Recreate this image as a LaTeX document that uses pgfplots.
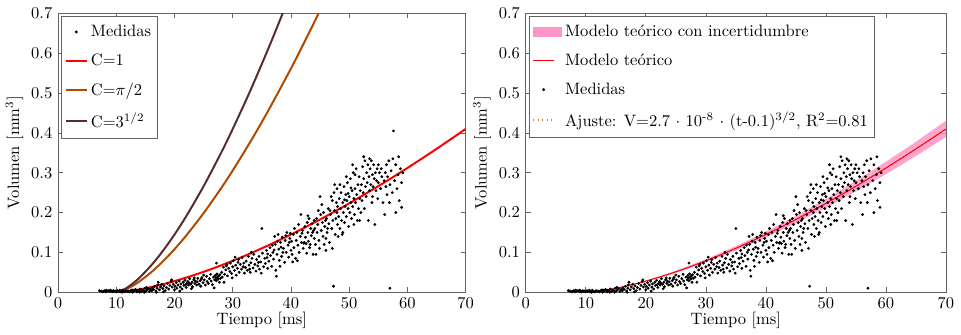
\documentclass[border=0pt]{standalone}
\usepackage{pgfplots}
\pgfplotsset{compat=1.18}
\usepackage{pgfplotstable}
\definecolor{cpi}{RGB}{176,72,0}
\definecolor{csq}{RGB}{85,45,45}
\definecolor{bandpink}{RGB}{255,150,200}
\definecolor{axgray}{RGB}{100,100,100}
\definecolor{fitor}{RGB}{240,110,60}

\pgfplotsset{legend image code/.code={\draw[mark repeat=2,mark phase=2,#1] plot coordinates {(0cm,0cm) (0.22cm,0cm) (0.44cm,0cm)};}}

\pgfplotstableread[row sep=\\]{t V\\
7.1 0.004\\ 7.4 0.003\\ 7.8 0.002\\ 8.0 0.004\\ 8.2 0.001\\ 8.5 0.003\\ 8.7 0.004\\ 8.9 0.002\\ 9.1 0.003\\ 9.3 0.001\\ 9.5 0.004\\ 9.6 0.002\\ 9.8 0.003\\ 10.0 0.001\\ 10.2 0.004\\ 10.3 0.002\\ 10.5 0.003\\ 10.7 0.001\\ 10.9 0.003\\ 11.1 0.005\\ 11.3 0.002\\ 11.5 0.001\\ 11.7 0.004\\ 11.9 0.002\\ 12.1 0.003\\ 8.3 0.005\\ 9.0 0.005\\ 10.6 0.005\\ 11.0 0.000\\ 7.6 0.001\\
12.3 0.001\\ 12.5 0.004\\ 12.7 0.006\\ 12.9 0.002\\ 13.1 0.003\\ 13.3 0.007\\ 13.5 0.001\\ 13.7 0.005\\ 13.9 0.003\\ 14.1 0.008\\ 14.3 0.002\\ 14.5 0.005\\ 14.7 0.004\\ 14.9 0.010\\ 15.1 0.003\\ 15.3 0.006\\ 15.5 0.009\\ 15.7 0.002\\ 15.9 0.007\\ 12.8 0.000\\ 13.6 0.002\\ 14.8 0.000\\ 15.2 0.012\\ 13.0 0.005\\ 14.0 0.000\\
16.1 0.004\\ 16.2 0.011\\ 16.4 0.007\\ 16.6 0.015\\ 16.8 0.003\\ 17.0 0.010\\ 17.1 0.018\\ 17.2 0.025\\ 17.4 0.006\\ 17.6 0.013\\ 17.8 0.020\\ 18.0 0.009\\ 18.2 0.016\\ 18.4 0.004\\ 18.6 0.012\\ 18.8 0.022\\ 19.0 0.008\\ 19.2 0.017\\ 19.4 0.027\\ 19.6 0.013\\ 19.8 0.020\\ 20.0 0.006\\ 16.9 0.000\\ 18.1 0.001\\ 19.5 0.031\\
20.1 0.015\\ 20.3 0.024\\ 20.4 0.010\\ 20.6 0.018\\ 20.8 0.028\\ 21.0 0.013\\ 21.1 0.021\\ 21.3 0.008\\ 21.5 0.025\\ 21.6 0.017\\ 21.8 0.030\\ 22.0 0.012\\ 22.1 0.022\\ 22.3 0.027\\ 22.4 0.018\\ 22.6 0.034\\ 22.8 0.020\\ 23.0 0.025\\ 23.1 0.014\\ 23.3 0.031\\ 23.5 0.022\\ 23.6 0.028\\ 23.8 0.018\\ 24.0 0.035\\ 20.9 0.003\\ 22.9 0.009\\ 23.9 0.026\\ 21.9 0.019\\ 22.5 0.023\\ 23.4 0.036\\
24.2 0.020\\ 24.4 0.029\\ 24.5 0.015\\ 24.7 0.037\\ 24.9 0.024\\ 25.1 0.031\\ 25.3 0.018\\ 25.5 0.040\\ 25.6 0.027\\ 25.8 0.022\\ 26.0 0.034\\ 26.2 0.045\\ 26.3 0.028\\ 26.5 0.019\\ 26.7 0.038\\ 26.9 0.031\\ 27.0 0.042\\ 27.1 0.036\\ 27.2 0.029\\ 27.3 0.046\\ 27.4 0.038\\ 27.5 0.033\\ 27.6 0.041\\ 27.7 0.025\\ 27.8 0.044\\ 27.9 0.035\\ 27.2 0.073\\ 26.8 0.011\\ 25.0 0.043\\ 24.6 0.033\\
28.1 0.050\\ 28.2 0.038\\ 28.4 0.063\\ 28.6 0.045\\ 28.8 0.056\\ 29.0 0.070\\ 29.1 0.041\\ 29.3 0.060\\ 29.5 0.052\\ 29.6 0.073\\ 29.8 0.047\\ 30.0 0.064\\ 30.1 0.079\\ 30.3 0.055\\ 30.5 0.068\\ 30.6 0.043\\ 30.8 0.060\\ 31.0 0.082\\ 31.1 0.050\\ 31.3 0.070\\ 31.5 0.058\\ 31.6 0.087\\ 31.8 0.064\\ 32.0 0.048\\ 28.5 0.025\\ 29.9 0.036\\ 30.9 0.075\\ 31.9 0.073\\ 28.9 0.066\\ 30.4 0.088\\
32.2 0.062\\ 32.3 0.078\\ 32.5 0.055\\ 32.7 0.090\\ 32.8 0.068\\ 33.0 0.050\\ 33.1 0.074\\ 33.3 0.085\\ 33.5 0.061\\ 33.6 0.095\\ 33.8 0.070\\ 34.0 0.053\\ 34.1 0.082\\ 34.3 0.066\\ 34.5 0.090\\ 34.6 0.058\\ 34.8 0.076\\ 35.0 0.160\\ 35.1 0.098\\ 35.3 0.064\\ 35.5 0.085\\ 35.6 0.072\\ 35.8 0.105\\ 36.0 0.060\\ 33.2 0.100\\ 34.9 0.048\\ 35.9 0.087\\ 32.9 0.058\\ 34.4 0.075\\ 36.0 0.096\\
36.2 0.078\\ 36.4 0.112\\ 36.5 0.092\\ 36.7 0.065\\ 36.9 0.100\\ 37.0 0.083\\ 37.2 0.140\\ 37.3 0.120\\ 37.4 0.055\\ 37.6 0.095\\ 37.8 0.145\\ 37.9 0.108\\ 38.0 0.080\\ 38.2 0.125\\ 38.4 0.090\\ 38.5 0.138\\ 38.7 0.110\\ 38.9 0.075\\ 39.0 0.130\\ 39.2 0.100\\ 39.3 0.150\\ 39.5 0.118\\ 39.6 0.088\\ 39.8 0.135\\ 40.0 0.105\\ 37.5 0.040\\ 38.1 0.065\\ 39.1 0.142\\ 37.1 0.106\\ 38.6 0.100\\ 39.7 0.125\\ 36.8 0.118\\ 38.3 0.113\\ 39.9 0.148\\ 37.7 0.128\\
40.1 0.128\\ 40.2 0.095\\ 40.4 0.145\\ 40.5 0.112\\ 40.6 0.160\\ 40.8 0.085\\ 40.9 0.130\\ 41.0 0.150\\ 41.2 0.118\\ 41.3 0.170\\ 41.4 0.100\\ 41.6 0.140\\ 41.7 0.195\\ 41.8 0.125\\ 42.0 0.155\\ 42.1 0.110\\ 42.2 0.123\\ 42.3 0.125\\ 42.4 0.165\\ 42.5 0.138\\ 42.7 0.098\\ 42.8 0.175\\ 42.9 0.150\\ 43.0 0.128\\ 43.1 0.185\\ 43.2 0.112\\ 43.4 0.160\\ 43.5 0.142\\ 43.6 0.172\\ 43.8 0.095\\ 43.9 0.155\\ 44.0 0.180\\ 41.1 0.079\\ 42.6 0.122\\ 43.3 0.120\\ 40.3 0.076\\ 44.0 0.135\\ 41.9 0.148\\ 42.9 0.192\\ 43.7 0.150\\
44.1 0.160\\ 44.2 0.120\\ 44.4 0.185\\ 44.5 0.150\\ 44.6 0.170\\ 44.8 0.130\\ 45.0 0.240\\ 45.1 0.195\\ 45.2 0.155\\ 45.4 0.175\\ 45.5 0.140\\ 45.6 0.200\\ 45.8 0.165\\ 46.0 0.105\\ 46.1 0.185\\ 46.2 0.150\\ 46.4 0.210\\ 46.5 0.172\\ 46.6 0.125\\ 46.8 0.195\\ 47.0 0.160\\ 47.1 0.230\\ 47.2 0.180\\ 47.3 0.015\\ 47.4 0.250\\ 47.5 0.205\\ 47.6 0.145\\ 47.7 0.185\\ 47.8 0.225\\ 47.9 0.260\\ 48.0 0.170\\ 44.3 0.095\\ 44.9 0.110\\ 45.3 0.220\\ 45.9 0.180\\ 46.3 0.160\\ 46.7 0.205\\ 47.1 0.110\\ 47.5 0.270\\ 47.9 0.200\\ 46.9 0.240\\ 45.7 0.120\\ 48.0 0.215\\ 46.0 0.135\\ 44.7 0.205\\
48.1 0.140\\ 48.2 0.190\\ 48.3 0.235\\ 48.4 0.160\\ 48.5 0.210\\ 48.6 0.250\\ 48.7 0.180\\ 48.8 0.145\\ 48.9 0.225\\ 49.0 0.200\\ 49.1 0.265\\ 49.2 0.175\\ 49.3 0.215\\ 49.4 0.245\\ 49.5 0.190\\ 49.6 0.230\\ 49.7 0.275\\ 49.8 0.210\\ 49.9 0.165\\ 50.0 0.240\\ 50.1 0.200\\ 50.2 0.285\\ 50.3 0.225\\ 50.4 0.185\\ 50.5 0.255\\ 50.6 0.215\\ 50.7 0.300\\ 50.8 0.235\\ 50.9 0.195\\ 51.0 0.260\\ 51.1 0.225\\ 51.2 0.310\\ 51.3 0.245\\ 51.4 0.180\\ 51.5 0.270\\ 51.6 0.210\\ 51.7 0.290\\ 51.8 0.235\\ 51.9 0.255\\ 52.0 0.200\\ 48.9 0.150\\ 49.5 0.290\\ 50.6 0.320\\ 51.8 0.180\\ 49.2 0.232\\ 50.3 0.262\\ 51.0 0.295\\ 48.4 0.270\\ 50.8 0.170\\ 49.8 0.248\\
52.1 0.270\\ 52.2 0.230\\ 52.3 0.315\\ 52.4 0.250\\ 52.5 0.285\\ 52.6 0.210\\ 52.7 0.330\\ 52.8 0.265\\ 52.9 0.240\\ 53.0 0.300\\ 53.1 0.275\\ 53.2 0.320\\ 53.3 0.180\\ 53.4 0.290\\ 53.5 0.255\\ 53.6 0.310\\ 53.7 0.270\\ 53.8 0.330\\ 53.9 0.225\\ 54.0 0.295\\ 54.1 0.265\\ 54.2 0.320\\ 54.3 0.285\\ 54.4 0.170\\ 54.5 0.300\\ 54.6 0.255\\ 54.7 0.280\\ 54.8 0.310\\ 54.9 0.235\\ 55.0 0.275\\ 55.2 0.300\\ 55.4 0.260\\ 55.6 0.290\\ 55.8 0.225\\ 56.0 0.280\\ 52.5 0.340\\ 53.5 0.335\\ 54.0 0.240\\ 55.0 0.320\\ 55.5 0.310\\
56.1 0.195\\ 56.2 0.300\\ 56.3 0.265\\ 56.4 0.320\\ 56.5 0.245\\ 56.6 0.290\\ 56.8 0.330\\ 57.0 0.270\\ 57.0 0.010\\ 57.2 0.305\\ 57.4 0.250\\ 57.6 0.405\\ 57.8 0.280\\ 58.0 0.320\\ 58.2 0.260\\ 58.4 0.295\\ 58.6 0.230\\ 58.8 0.310\\ 59.0 0.213\\ 59.0 0.275\\ 58.5 0.340\\ 57.5 0.335\\ 56.9 0.225\\ 59.2 0.300\\ 58.0 0.200\\
}\medidas

\pgfplotstableread[row sep=\\]{t V\\
10 0\\ 11 0.00088\\ 12 0.0025\\ 13 0.00458\\ 14 0.00706\\ 16 0.01296\\ 18 0.01996\\ 20 0.0279\\ 22.5 0.0390\\ 25 0.0512\\ 27.5 0.0646\\ 30 0.0789\\ 32.5 0.0941\\ 35 0.1103\\ 37.5 0.1272\\ 40 0.1449\\ 42.5 0.1634\\ 45 0.1826\\ 47.5 0.2026\\ 50 0.2231\\ 52.5 0.2444\\ 55 0.2663\\ 57.5 0.2888\\ 60 0.3119\\ 62.5 0.3356\\ 65 0.3598\\ 67.5 0.3846\\ 70 0.4099\\
}\cuno

\pgfplotstableread[row sep=\\]{t V\\
10 0\\ 11 0.00342\\ 12 0.00967\\ 13 0.01776\\ 14 0.0273\\ 16 0.0502\\ 18 0.0773\\ 20 0.1081\\ 22 0.1421\\ 25 0.1986\\ 28 0.2610\\ 30 0.3057\\ 33 0.3770\\ 36 0.4532\\ 40 0.5616\\ 43 0.6480\\ 45 0.7078\\ 46 0.7383\\
}\cpidos

\pgfplotstableread[row sep=\\]{t V\\
10 0\\ 11 0.00458\\ 12 0.01296\\ 13 0.0238\\ 14 0.03666\\ 16 0.0674\\ 18 0.1037\\ 20 0.1449\\ 22 0.1905\\ 25 0.2662\\ 28 0.3500\\ 30 0.4099\\ 33 0.5055\\ 36 0.6077\\ 38 0.6791\\ 39 0.7157\\
}\craiz

\pgfplotstableread[row sep=\\]{t V\\
10 0\\ 12 0.00263\\ 14 0.00741\\ 16 0.01361\\ 18 0.02096\\ 20 0.0293\\ 25 0.0538\\ 30 0.0828\\ 35 0.1158\\ 40 0.1521\\ 45 0.1917\\ 50 0.2343\\ 55 0.2796\\ 60 0.3275\\ 65 0.3778\\ 70 0.4304\\
70 0.3894\\ 65 0.3418\\ 60 0.2963\\ 55 0.2530\\ 50 0.2119\\ 45 0.1735\\ 40 0.1377\\ 35 0.1048\\ 30 0.0750\\ 25 0.0486\\ 20 0.0265\\ 18 0.01896\\ 16 0.01231\\ 14 0.00671\\ 12 0.00238\\ 10 0\\
}\banda

\pgfplotsset{
  myaxis/.style={
    scale only axis, height=169pt,
    xmin=0, xmax=70, ymin=0, ymax=0.7,
    xtick={0,10,20,30,40,50,60,70},
    ytick={0,0.1,0.2,0.3,0.4,0.5,0.6,0.7},
    yticklabel style={/pgf/number format/fixed,/pgf/number format/precision=1},
    axis line style={axgray}, tick style={axgray, thin},
    major tick length=3pt,
    xlabel={Tiempo [ms]}, ylabel={Volumen [mm\textsuperscript{3}]},
    xlabel style={yshift=4.5pt}, ylabel style={yshift=-2pt},
    legend cell align=left,
    legend style={at={(0.008,0.992)}, anchor=north west, draw=axgray, inner xsep=2pt, inner ysep=3.5pt, font=\normalsize},
  },
  dots/.style={only marks, mark=*, mark size=0.65pt, black},
}

\begin{document}
\begin{tikzpicture}
\begin{axis}[myaxis, width=247pt, at={(0pt,0pt)}, anchor=south west, legend style={row sep=5pt}]
  \addplot[dots] table[x=t,y=V]{\medidas};
  \addlegendentry{Medidas}
  \addplot[red, line width=1.2pt, smooth] table[x=t,y=V]{\cuno};
  \addlegendentry{C=1}
  \addplot[cpi, line width=1.2pt, smooth] table[x=t,y=V]{\cpidos};
  \addlegendentry{C=$\pi$/2}
  \addplot[csq, line width=1.2pt, smooth] table[x=t,y=V]{\craiz};
  \addlegendentry{C=3\textsuperscript{1/2}}
\end{axis}
\begin{axis}[myaxis, width=254.7pt, at={(283.4pt,0pt)}, anchor=south west, legend style={row sep=5pt}]
  \addlegendimage{area legend, fill=bandpink, draw=bandpink}
  \addlegendentry{Modelo te\'orico con incertidumbre}
  \addlegendimage{red, line width=0.6pt}
  \addlegendentry{Modelo te\'orico}
  \addlegendimage{dots}
  \addlegendentry{Medidas}
  \addlegendimage{fitor, dotted, line width=0.7pt}
  \addlegendentry{Ajuste: V=2.7 $\cdot$ 10\textsuperscript{-8} $\cdot$ (t-0.1)\textsuperscript{3/2}, R\textsuperscript{2}=0.81}
  \addplot[fill=bandpink, draw=none, opacity=0.85, forget plot] table[x=t,y=V]{\banda} -- cycle;
  \addplot[dots, forget plot] table[x=t,y=V]{\medidas};
  \addplot[fitor, dotted, line width=0.7pt, smooth, forget plot] table[x=t,y=V]{\cuno};
  \addplot[red, line width=0.6pt, smooth, forget plot] table[x=t,y=V]{\cuno};
\end{axis}
\pgfresetboundingbox
\path[use as bounding box] (-35.2pt,-25.9pt) rectangle (547.2pt,177.1pt);
\end{tikzpicture}
\end{document}
